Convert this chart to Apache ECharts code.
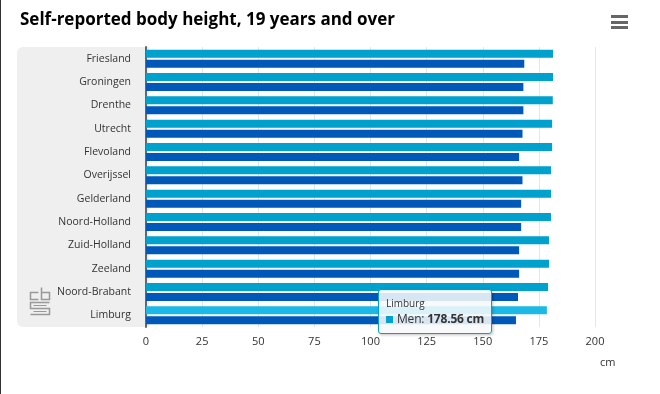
<!DOCTYPE html>
<html>
<head>
<meta charset="utf-8">
<script src="https://cdn.jsdelivr.net/npm/echarts@6/dist/echarts.min.js"></script>
<style>
  html, body { margin: 0; padding: 0; background: #fff; }
  #chart { width: 660px; height: 394px; }
</style>
</head>
<body>
<div id="chart"></div>
<script>
// provinces, top to bottom
const provinces = ['Friesland', 'Groningen', 'Drenthe', 'Utrecht', 'Flevoland', 'Overijssel',
  'Gelderland', 'Noord-Holland', 'Zuid-Holland', 'Zeeland', 'Noord-Brabant', 'Limburg'];
// self-reported height in cm
const menHeight = [181.3, 181.3, 181.2, 180.9, 180.9, 180.4, 180.4, 180.4, 179.5, 179.5, 179.1, 178.56];
const womenHeight = [168.5, 168.1, 168.1, 167.7, 166.2, 167.7, 167.1, 167.1, 166.2, 166.2, 165.7, 164.8];
const xTicks = [0, 25, 50, 75, 100, 125, 150, 175, 200];

const FONT = 'Open Sans';
const chart = echarts.init(document.getElementById('chart'));

const option = {
  animation: false,
  textStyle: { fontFamily: FONT },
  title: {
    text: 'Self-reported body height, 19 years and over',
    left: 15,
    top: 7,
    textStyle: { fontSize: 17, fontWeight: 'bold', color: '#000', fontFamily: FONT }
  },
  grid: { left: 146, right: 65, top: 47, bottom: 67 },
  tooltip: {
    trigger: 'item',
    alwaysShowContent: true,
    backgroundColor: 'rgba(246,248,250,0.88)',
    borderColor: '#00a1cd',
    borderWidth: 1,
    padding: [6, 7],
    extraCssText: 'border-radius:3px;box-shadow:1px 1px 3px rgba(0,0,0,0.25);',
    position: function () { return [378, 289]; },
    formatter: function (p) {
      return '<div style="font-size:10px;color:#333;line-height:14px">' + p.name + '</div>' +
        '<div style="font-size:12px;color:#333;line-height:17px;letter-spacing:-0.2px">' +
        '<span style="display:inline-block;width:7px;height:7px;background:' + p.color + ';margin-right:4px"></span>' +
        p.seriesName + ': <b>' + p.value.toFixed(2) + ' cm</b></div>';
    }
  },
  xAxis: {
    type: 'value',
    min: xTicks[0],
    max: xTicks[xTicks.length - 1],
    interval: 25,
    name: 'cm',
    nameLocation: 'end',
    nameGap: 5,
    nameTextStyle: { color: '#333', fontSize: 11, verticalAlign: 'top', padding: [30, 0, 0, 0] },
    axisLine: { show: false },
    axisTick: { show: false },
    axisLabel: { color: '#333', fontSize: 11, margin: 9 },
    splitLine: { lineStyle: { color: '#e6e6e6', width: 1 } }
  },
  yAxis: {
    type: 'category',
    data: provinces,
    inverse: true,
    axisLine: { lineStyle: { color: '#666', width: 2 } },
    axisTick: { show: false },
    axisLabel: { color: '#333', fontSize: 10.5, margin: 15, padding: [3, 0, 0, 0] }
  },
  series: [
    {
      name: 'Men',
      type: 'bar',
      data: menHeight,
      barWidth: 8,
      barGap: '25%',
      itemStyle: { color: '#00a1cd' },
      emphasis: { itemStyle: { color: '#1cb9e6' } }
    },
    {
      name: 'Women',
      type: 'bar',
      data: womenHeight,
      barWidth: 8,
      itemStyle: { color: '#0058b8' },
      emphasis: { itemStyle: { color: '#1a6fcc' } }
    }
  ],
  graphic: [
    // left edge
    { type: 'rect', shape: { x: 0, y: 0, width: 1, height: 394 }, style: { fill: '#333' }, z: 10 },
    // label panel background
    { type: 'rect', shape: { x: 17, y: 47, width: 132, height: 280, r: [6, 0, 0, 6] }, style: { fill: '#efefef' }, z: -10 },
    // menu icon
    { type: 'rect', shape: { x: 611, y: 15, width: 17, height: 3 }, style: { fill: '#666' } },
    { type: 'rect', shape: { x: 611, y: 21, width: 17, height: 3 }, style: { fill: '#666' } },
    { type: 'rect', shape: { x: 611, y: 26, width: 17, height: 3 }, style: { fill: '#666' } },
    // cbs logo
    {
      type: 'group', left: 28, top: 285, children: [
        { type: 'polyline', shape: { points: [[8, 5], [0, 5], [0, 12], [8, 12]] }, style: { stroke: '#999', lineWidth: 1.5, fill: null } },
        { type: 'polyline', shape: { points: [[11, 0], [11, 12], [19, 12], [19, 5], [11, 5]] }, style: { stroke: '#999', lineWidth: 1.5, fill: null } },
        { type: 'polyline', shape: { points: [[19, 15], [0, 15], [0, 21], [19, 21], [19, 27], [0, 27]] }, style: { stroke: '#999', lineWidth: 1.5, fill: null } },
        { type: 'polyline', shape: { points: [[16, 18], [3, 18]] }, style: { stroke: '#999', lineWidth: 1, fill: null } },
        { type: 'polyline', shape: { points: [[3, 24], [16, 24]] }, style: { stroke: '#999', lineWidth: 1, fill: null } }
      ]
    }
  ]
};

chart.setOption(option);
chart.dispatchAction({ type: 'highlight', seriesIndex: 0, dataIndex: provinces.length - 1 });
chart.dispatchAction({ type: 'showTip', seriesIndex: 0, dataIndex: provinces.length - 1 });
</script>
</body>
</html>
